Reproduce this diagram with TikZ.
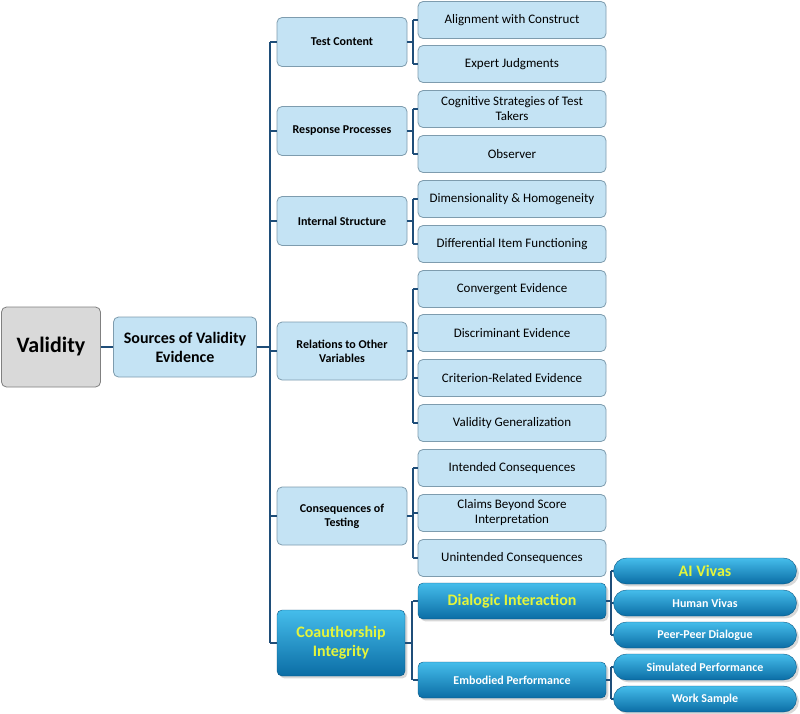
\documentclass[tikz,border=0pt]{standalone}
\usepackage{fontspec}
\setmainfont{Carlito}
\usetikzlibrary{shapes.geometric,shadows}
\definecolor{lb}{HTML}{C4E3F4}
\definecolor{lbd}{HTML}{7E9CAE}
\definecolor{ln}{HTML}{1F4E79}
\definecolor{dtop}{HTML}{45BDEB}
\definecolor{dbot}{HTML}{0B6DA5}
\definecolor{yl}{HTML}{E4F53C}
\tikzset{
 base/.style={draw=lbd,fill=lb,rounded corners=5pt,align=center,inner sep=1pt,line width=0.8pt},
 l2/.style={base,minimum width=130pt,minimum height=49pt,font=\fontsize{12}{14}\selectfont\bfseries},
 l3/.style={base,minimum width=188pt,minimum height=37pt,font=\fontsize{13}{15}\selectfont},
 dk/.style={rounded corners=5pt,align=center,inner sep=1pt,draw=dbot!80!black,top color=dtop,bottom color=dbot,text=white,font=\fontsize{12}{14}\selectfont\bfseries,drop shadow={opacity=0.3}},
 pill/.style={dk,rounded corners=13pt,minimum width=183pt,minimum height=26pt},
 conn/.style={draw=ln,line width=1.5pt}
}
\begin{document}
\begin{tikzpicture}[x=1pt,y=-1pt]
\useasboundingbox[fill=white] (0,0) rectangle (800,713);
\node[base,fill=gray!30,draw=gray,minimum width=99pt,minimum height=80pt,font=\fontsize{22}{26}\selectfont\bfseries] (val) at (51,347) {Validity};
\node[l2,minimum width=143pt,minimum height=60pt,font=\fontsize{16}{19}\selectfont\bfseries] (src) at (185,347) {Sources of Validity\\Evidence};
\node[l2] (tc) at (342,42) {Test Content};
\node[l2] (rp) at (342,131) {Response Processes};
\node[l2] (is) at (342,221) {Internal Structure};
\node[l2,minimum height=58pt] (rv) at (342,351) {Relations to Other\\Variables};
\node[l2,minimum height=58pt] (ct) at (342,516) {Consequences of\\Testing};
\node[dk,minimum width=128pt,minimum height=66pt,text=yl,font=\fontsize{16}{19}\selectfont\bfseries] (co) at (341,643) {Coauthorship\\Integrity};
\foreach \n/\y/\t in {a1/20/Alignment with Construct,a2/64/Expert Judgments,b1/109/Cognitive Strategies of Test\\Takers,b2/154/Observer/Judge Consistency,c1/199/Dimensionality \& Homogeneity,c2/244/Differential Item Functioning,d1/289/Convergent Evidence,d2/333/Discriminant Evidence,d3/378/Criterion-Related Evidence,d4/423/Validity Generalization,e1/468/Intended Consequences,e2/513/Claims Beyond Score\\Interpretation,e3/558/Unintended Consequences}
 \node[l3] (\n) at (512,\y) {\t};
\node[dk,minimum width=188pt,minimum height=36pt,text=yl,font=\fontsize{16}{19}\selectfont\bfseries] (di) at (512,601) {Dialogic Interaction};
\node[dk,minimum width=188pt,minimum height=36pt] (em) at (512,680) {Embodied Performance};
\node[pill,text=yl,font=\fontsize{16}{19}\selectfont\bfseries] (p1) at (705,571) {AI Vivas};
\node[pill] (p2) at (705,603) {Human Vivas};
\node[pill] (p3) at (705,635) {Peer-Peer Dialogue};
\node[pill] (p4) at (705,667) {Simulated Performance};
\node[pill] (p5) at (705,699) {Work Sample};
% connectors
\draw[conn] (val) -- (src);
\coordinate (t0) at (270,42); \coordinate (t1) at (270,643);
\draw[conn] (src.east) -- (270,347);
\draw[conn] (t0) -- (t1);
\foreach \c in {tc,rp,is,rv,ct,co} \draw[conn] (270,0 |- \c.west) -- (\c.west);
\newcommand\brk[4]{% parent, x, first, list
 \draw[conn] (#1.east) -- (#2,0 |- #1.east);
 \draw[conn] (#2,0 |- #3.west) -- (#2,0 |- #4.west);}
\brk{tc}{413}{a1}{a2}\brk{rp}{413}{b1}{b2}\brk{is}{413}{c1}{c2}\brk{rv}{413}{d1}{d4}\brk{ct}{413}{e1}{e3}\brk{co}{412}{di}{em}\brk{di}{611}{p1}{p3}\brk{em}{611}{p4}{p5}
\foreach \c in {a1,a2,b1,b2,c1,c2,d1,d2,d3,d4,e1,e2,e3,di,em} \draw[conn] (\c.west) -- ++(-5,0);
\foreach \c in {p1,p2,p3,p4,p5} \draw[conn] (\c.west) -- (611,0 |- \c.west);
\end{tikzpicture}
\end{document}
